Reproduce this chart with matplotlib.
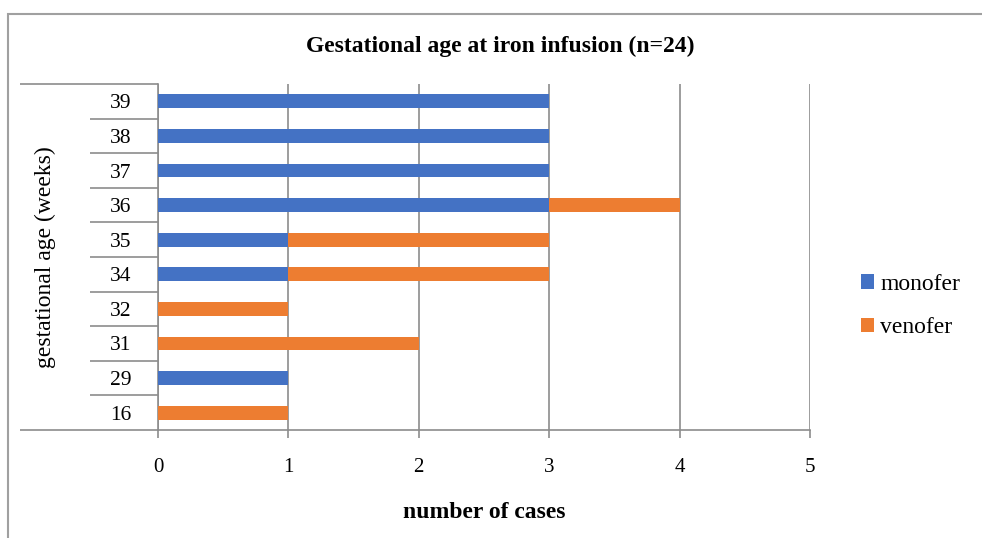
import matplotlib
matplotlib.use("Agg")
import matplotlib.pyplot as plt
import numpy as np
from matplotlib.patches import Rectangle

# gestational age categories, bottom to top
weeks = ["16", "29", "31", "32", "34", "35", "36", "37", "38", "39"]
monofer = [0, 1, 0, 0, 1, 1, 3, 3, 3, 3]
venofer = [1, 0, 2, 1, 2, 2, 1, 0, 0, 0]
x_ticks = [0, 1, 2, 3, 4, 5]

BLUE = "#4472C4"
ORANGE = "#ED7D31"
GRID = "#8C8C8C"

plt.rcParams["font.family"] = ["Liberation Serif", "DejaVu Serif"]

fig = plt.figure(figsize=(9.82, 5.38), dpi=100)
ax = fig.add_axes([158 / 982, 1 - 430 / 538, 652 / 982, 346 / 538])

# outer chart frame, runs off the right and bottom edges
fig.patches.append(Rectangle((8 / 982, -0.1), 1.2, 1 - 14 / 538 + 0.1,
                             transform=fig.transFigure, fill=False,
                             edgecolor="#A0A0A0", linewidth=1.5))

y = np.arange(len(weeks))
ax.barh(y, monofer, height=0.4, color=BLUE, label="monofer", zorder=3)
ax.barh(y, venofer, left=monofer, height=0.4, color=ORANGE, label="venofer", zorder=3)

ax.set_xlim(0, 5)
ax.set_ylim(-0.5, len(weeks) - 0.5)
ax.set_xticks(x_ticks)
ax.set_yticks(y)
ax.set_yticklabels(weeks)
ax.set_yticks(np.arange(0.5, len(weeks) - 1), minor=True)

ax.grid(axis="x", color=GRID, linewidth=1.2, zorder=0)
for s in ["top", "right"]:
    ax.spines[s].set_visible(False)
for s in ["left", "bottom"]:
    ax.spines[s].set_color(GRID)
    ax.spines[s].set_linewidth(1.2)

# top and bottom category lines reach further left than the inner ones
ax.hlines([-0.5, len(weeks) - 0.5], -138 / 652, 0, transform=ax.get_yaxis_transform(),
          colors=GRID, linewidth=1.2, clip_on=False)

ax.tick_params(axis="y", which="major", length=0, pad=19, labelsize=15.5)
ax.tick_params(axis="y", which="minor", length=49, color=GRID, width=1.2)
ax.tick_params(axis="x", which="major", length=6, color=GRID, width=1.2,
               pad=14, labelsize=15)

ax.set_xlabel("number of cases", fontsize=17, fontweight="bold", labelpad=18)
fig.text(45 / 982, 1 - 257 / 538, "gestational age (weeks)", rotation=90,
         ha="center", va="center", fontsize=17)
fig.text(500 / 982, 1 - 46 / 538, "Gestational age at iron infusion (n=24)",
         ha="center", va="center", fontsize=17, fontweight="bold")

ax.legend(loc="center left", bbox_to_anchor=(840 / 982, 1 - 306 / 538),
          bbox_transform=fig.transFigure, frameon=False, fontsize=17,
          handlelength=0.55, handleheight=0.55, handletextpad=0.25,
          labelspacing=0.95)

fig.savefig("out.png", dpi=100)
